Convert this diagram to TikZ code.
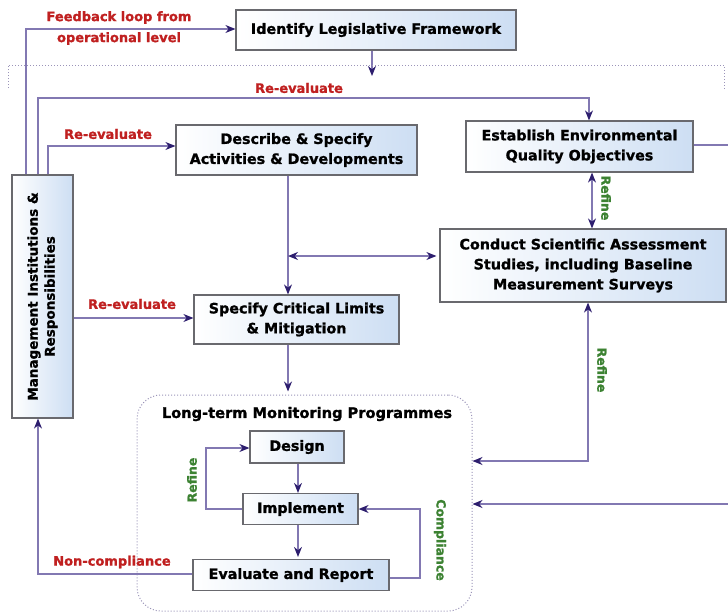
\documentclass[tikz,border=0pt]{standalone}
\usepackage{fontspec}
\setmainfont{DejaVu Sans}[BoldFeatures={FakeBold=1.2}]
\usetikzlibrary{arrows.meta,calc}
\definecolor{linec}{RGB}{130,120,178}
\definecolor{tipc}{RGB}{45,30,110}
\definecolor{boxborder}{RGB}{105,105,110}
\definecolor{boxblue}{RGB}{205,222,243}
\definecolor{redlbl}{RGB}{192,32,32}
\definecolor{greenlbl}{RGB}{60,130,50}
\definecolor{dotc}{RGB}{155,148,185}
\tikzset{
  boxst/.style={draw=boxborder, line width=1.2pt, left color=white, right color=boxblue,
    align=center, inner sep=2pt, font=\bfseries\fontsize{14.3}{20}\selectfont},
  ln/.style={draw=linec, line width=1.2pt},
  conn/.style={ln, -{Stealth[length=10pt,width=8pt,color=tipc]}},
  dconn/.style={ln, {Stealth[length=10pt,width=8pt,color=tipc]}-{Stealth[length=10pt,width=8pt,color=tipc]}},
  redtxt/.style={text=redlbl, font=\bfseries\fontsize{13}{21}\selectfont, align=center, inner sep=0pt},
  greentxt/.style={text=greenlbl, font=\bfseries\fontsize{12.5}{15}\selectfont, inner sep=0pt},
  dotline/.style={draw=dotc, line width=1pt, dotted}
}
\begin{document}
\begin{tikzpicture}[x=1pt,y=-1pt]
\useasboundingbox[fill=white] (0,0) rectangle (728,614);

% monitoring frame
\node[draw=dotc, line width=1pt, dotted, rounded corners=24pt, minimum width=335pt, minimum height=216pt, inner sep=0pt] (mon) at (304.5,503) {};
\node[font=\bfseries\fontsize{14.6}{16}\selectfont, inner sep=0pt] (montitle) at (307,414) {Long-term Monitoring Programmes};

% boxes
\node[boxst, minimum width=280pt, minimum height=40pt] (leg) at (376,30) {Identify Legislative Framework};
\node[boxst, minimum width=227pt, minimum height=51pt] (est) at (579.5,146.5) {Establish Environmental\\Quality Objectives};
\node[boxst, minimum width=241pt, minimum height=50pt] (desc) at (296.5,150) {Describe \& Specify\\Activities \& Developments};
\node[boxst, minimum width=286pt, minimum height=73pt] (cond) at (583,265.5) {Conduct Scientific Assessment\\Studies, including Baseline\\Measurement Surveys};
\node[boxst, minimum width=205pt, minimum height=49pt] (spec) at (296.5,319.5) {Specify Critical Limits\\\& Mitigation};
\node[boxst, minimum width=61pt, minimum height=243pt] (mgmt) at (42.5,296.5) {};
\node[rotate=90, align=center, inner sep=0pt, font=\bfseries\fontsize{13.5}{17}\selectfont] (mgmtlbl) at (mgmt.center) {Management Institutions \&\\Responsibilities};
\node[boxst, minimum width=94pt, minimum height=32pt] (design) at (297,447) {Design};
\node[boxst, minimum width=115pt, minimum height=31pt] (impl) at (300.5,509) {Implement};
\node[boxst, minimum width=196pt, minimum height=31pt] (eval) at (291,575) {Evaluate and Report};

% coordinates
\coordinate (c1) at (26,29);
\coordinate (c2) at (372,76);
\coordinate (d1) at (8,88);
\coordinate (d2) at (8,65);
\coordinate (d3) at (724,65);
\coordinate (d4) at (724,89);
\coordinate (c3) at (38,98);
\coordinate (c4) at (589,98);
\coordinate (c5) at (48,146);
\coordinate (c6) at (100,318);
\coordinate (c7) at (288,256);
\coordinate (c9) at (592,200);
\coordinate (c10) at (728,145);
\coordinate (c11) at (588,461);
\coordinate (c12) at (728,504);
\coordinate (c13) at (298,480);
\coordinate (c14) at (206,448);
\coordinate (c15) at (420,578);
\coordinate (c16) at (38,574);

% connectors
\draw[conn] (mgmt.north -| c1) -- (c1) -- (c1 -| leg.west);
\draw[conn] (leg.south -| c2) -- (c2);
\draw[dotline] (d1) -- (d2) -- (d3) -- (d4);
\draw[conn] (mgmt.north -| c3) -- (c3) -- (c4) -- (c4 |- est.north);
\draw[conn] (mgmt.north -| c5) -- (c5) -- (c5 -| desc.west);
\draw[conn] (mgmt.east |- c6) -- (c6 -| spec.west);
\draw[conn] (desc.south -| c7) -- (spec.north -| c7);
\draw[dconn, shorten >=3pt] (c7) -- (c7 -| cond.west);
\draw[dconn] (est.south -| c9) -- (cond.north -| c9);
\draw[ln] (est.east |- c10) -- (c10);
\draw[conn, shorten >=3pt] (spec.south -| c7) -- (mon.north -| c7);
\draw[dconn] (cond.south -| c11) -- (c11) -- (c11 -| mon.east);
\draw[conn] (c12) -- (c12 -| mon.east);
\draw[conn] (design.south -| c13) -- (impl.north -| c13);
\draw[conn, shorten >=2pt] (impl.south -| c13) -- (eval.north -| c13);
\draw[conn] (impl.west) -- (impl.west -| c14) -- (c14) -- (c14 -| design.west);
\draw[conn] (eval.east |- c15) -- (c15) -- (c15 |- impl.east) -- (impl.east);
\draw[conn] (eval.west |- c16) -- (c16) -- (c16 |- mgmt.south);

% labels
\node[redtxt] (lfb) at (119,28) {Feedback loop from\\operational level};
\node[redtxt] (lre1) at (299,88) {Re-evaluate};
\node[redtxt] (lre2) at (108,134) {Re-evaluate};
\node[redtxt] (lre3) at (132,304) {Re-evaluate};
\node[redtxt] (lnc) at (112,562) {Non-compliance};
\node[greentxt, rotate=-90] (lrf1) at (606,198) {Refine};
\node[greentxt, rotate=-90] (lrf2) at (602,370) {Refine};
\node[greentxt, rotate=90] (lrf3) at (192,480) {Refine};
\node[greentxt, rotate=-90] (lcp) at (440,540) {Compliance};
\end{tikzpicture}
\end{document}
